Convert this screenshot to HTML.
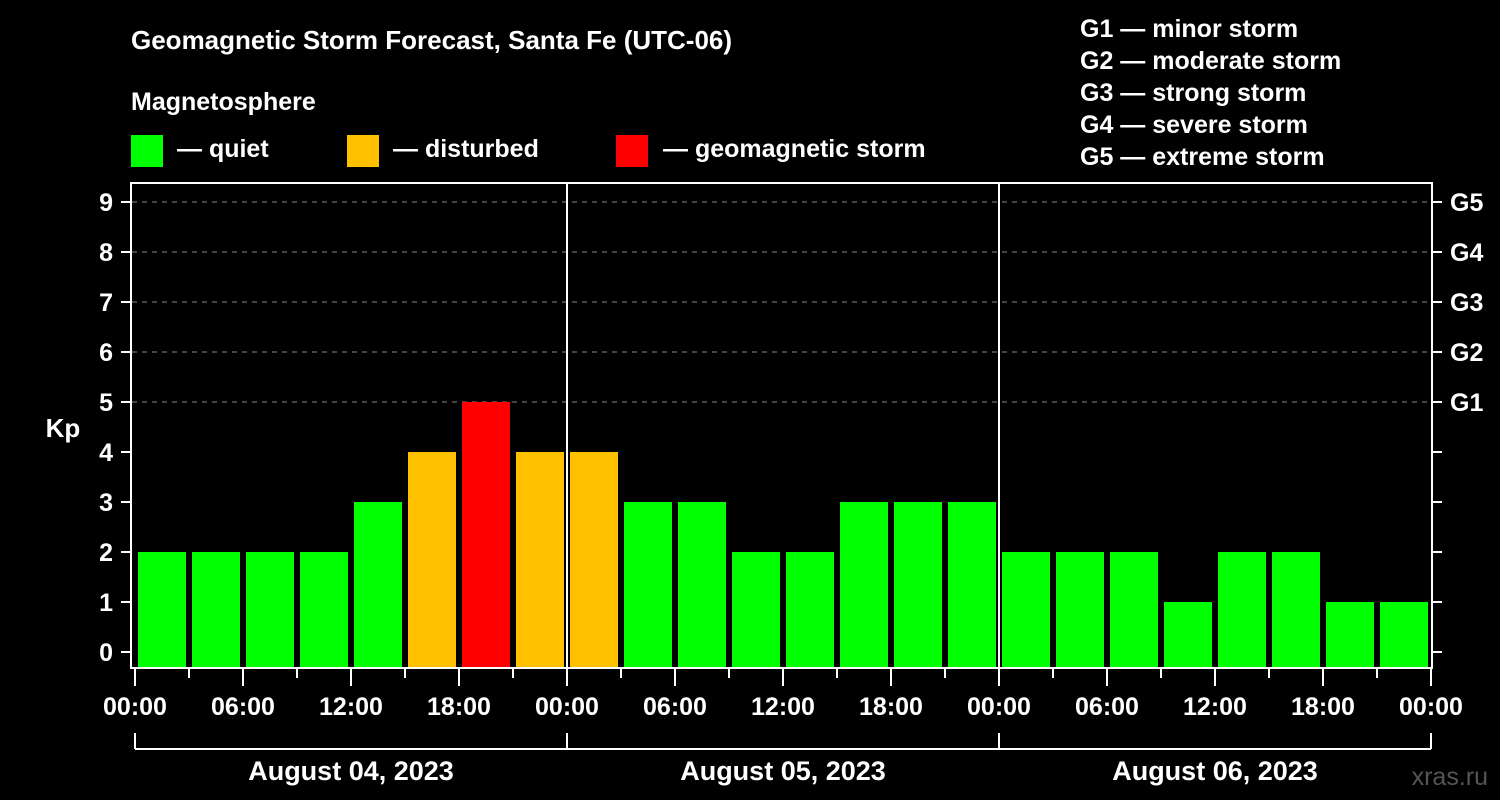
<!DOCTYPE html>
<html><head><meta charset="utf-8"><style>
body{margin:0;background:#000;}
svg{display:block;font-family:"Liberation Sans",sans-serif;font-weight:bold;}
</style></head><body>
<svg id="c" width="1500" height="800">
<rect width="1500" height="800" fill="#000"/>
<text x="131" y="49" fill="#fff" font-size="26">Geomagnetic Storm Forecast, Santa Fe (UTC-06)</text>
<text x="131" y="110" fill="#fff" font-size="25">Magnetosphere</text>
<g><rect x="131" y="135" width="32" height="32" fill="#00ff00"/><text x="177" y="157" fill="#fff" font-size="25">— quiet</text></g>
<g><rect x="347" y="135" width="32" height="32" fill="#ffc000"/><text x="393" y="157" fill="#fff" font-size="25">— disturbed</text></g>
<g><rect x="616" y="135" width="32" height="32" fill="#ff0000"/><text x="663" y="157" fill="#fff" font-size="25">— geomagnetic storm</text></g>
<g fill="#fff" font-size="25">
<text x="1080" y="37">G1 — minor storm</text><text x="1080" y="69">G2 — moderate storm</text><text x="1080" y="101">G3 — strong storm</text><text x="1080" y="133">G4 — severe storm</text><text x="1080" y="165">G5 — extreme storm</text></g>
<text x="63" y="437" fill="#fff" font-size="26" text-anchor="middle">Kp</text>
<text x="1488" y="785" fill="#555" font-size="25" text-anchor="end" font-weight="normal">xras.ru</text>
<g id="g"></g>
</svg>
<script>
const kpValues=[2,2,2,2,3,4,5,4, 4,3,3,2,2,3,3,3, 2,2,2,1,2,2,1,1];
const dayLabels=["August 04, 2023","August 05, 2023","August 06, 2023"];
const hourLabels=["00:00","06:00","12:00","18:00"];
const gLabels=["G1","G2","G3","G4","G5"];
const NS="http://www.w3.org/2000/svg",g=document.getElementById('g');
const X0=135,DAYW=432,slot=DAYW/8;
const xs=h=>X0+h*DAYW/24; // h in hours
const ys=v=>652-v*50;
function el(t,a,txt){const e=document.createElementNS(NS,t);for(const k in a)e.setAttribute(k,a[k]);if(txt!=null)e.textContent=txt;g.appendChild(e);return e;}
// gridlines
for(let v=5;v<=9;v++){const l=el('line',{x1:132,x2:1431,y1:ys(v),y2:ys(v),stroke:'#888','stroke-dasharray':'5,5','stroke-width':1});

}
// bars
kpValues.forEach((v,i)=>{const c=v>=5?'#ff0000':v>=4?'#ffc000':'#00ff00';
const r=el('rect',{x:xs(i*3)+3,y:ys(v),width:slot-6,height:668-ys(v),fill:c});

});
// day separators
for(let d=1;d<3;d++){const l=el('line',{x1:xs(d*24),x2:xs(d*24),y1:183,y2:668,stroke:'#fff','stroke-width':2});

}
// frame
const f=el('rect',{x:131,y:183,width:1301,height:485,fill:'none',stroke:'#fff','stroke-width':2});


// y ticks
for(let v=0;v<=9;v++){el('line',{x1:121,x2:131,y1:ys(v),y2:ys(v),stroke:'#fff','stroke-width':2});
el('line',{x1:1432,x2:1442,y1:ys(v),y2:ys(v),stroke:'#fff','stroke-width':2});
const t=el('text',{x:113,y:ys(v)+9,fill:'#fff','font-size':25,'text-anchor':'end'},v);

}
gLabels.forEach((s,i)=>{const t=el('text',{x:1450,y:ys(5+i)+9,fill:'#fff','font-size':25},s);

});
// x ticks
for(let h=0;h<=72;h+=3){const major=h%6===0;el('line',{x1:xs(h),x2:xs(h),y1:668,y2:major?686:678,stroke:'#fff','stroke-width':2});
if(major){const t=el('text',{x:xs(h),y:715,fill:'#fff','font-size':25,'text-anchor':'middle'},hourLabels[(h%24)/6]);

}}
// day brackets
el('line',{x1:xs(0),x2:xs(72),y1:749,y2:749,stroke:'#fff','stroke-width':2});
for(let d=0;d<=3;d++)el('line',{x1:xs(d*24),x2:xs(d*24),y1:733,y2:749,stroke:'#fff','stroke-width':2});
dayLabels.forEach((s,d)=>{const t=el('text',{x:xs(d*24+12),y:780,fill:'#fff','font-size':27,'text-anchor':'middle'},s);

});
</script>
</body></html>
